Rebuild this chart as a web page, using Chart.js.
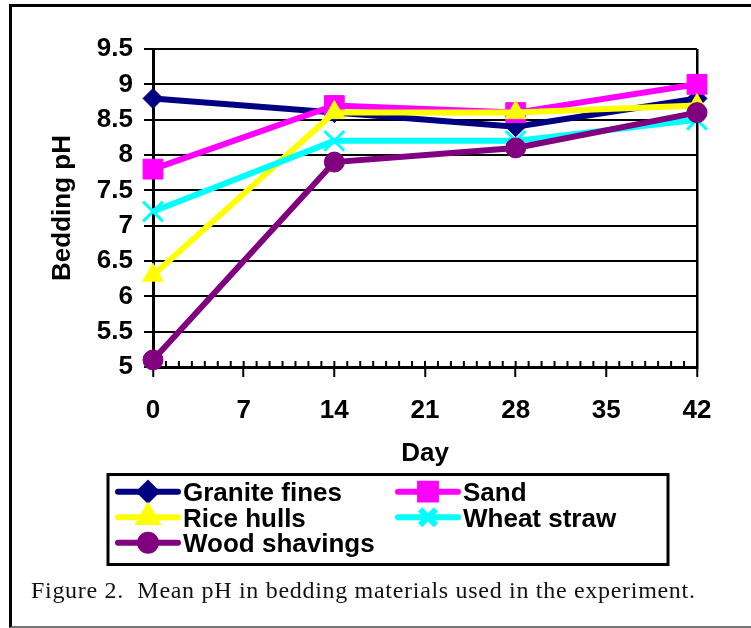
<!DOCTYPE html>
<html>
<head>
<meta charset="utf-8">
<script src="https://cdn.jsdelivr.net/npm/chart.js@4.4.0/dist/chart.umd.min.js"></script>
<style>
  html, body { margin: 0; padding: 0; background: #fff; }
  #wrap { position: relative; width: 751px; height: 628px; overflow: hidden; }
  #frame { position: absolute; left: 9px; top: 4px; width: 800px; height: 619px;
           border-left: 3px solid #000; border-top: 3px solid #000; border-bottom: 2px solid #777; }
  #caption { position: absolute; left: 31px; top: 578px; font: 24px "Liberation Serif", "Times New Roman", serif;
             letter-spacing: 0.7px; line-height: 1; white-space: pre; color: #111; }
  canvas { position: absolute; left: 0; top: 0; }
</style>
</head>
<body>
<div id="wrap">
  <div id="frame"></div>
  <canvas id="phChart" width="751" height="628"></canvas>
  <div id="caption">Figure 2.  Mean pH in bedding materials used in the experiment.</div>
</div>
<script>
// values
const days = [0, 14, 28, 42];
const graniteFines = [8.8, 8.6, 8.4, 8.8];
const sand = [7.8, 8.7, 8.6, 9.0];
const riceHulls = [6.3, 8.6, 8.6, 8.7];
const wheatStraw = [7.2, 8.2, 8.2, 8.5];
const woodShavings = [5.1, 7.9, 8.1, 8.6];
const seriesNames = ["Granite fines", "Sand", "Rice hulls", "Wheat straw", "Wood shavings"];
const xTicks = [0, 7, 14, 21, 28, 35, 42];
const yTicks = [5, 5.5, 6, 6.5, 7, 7.5, 8, 8.5, 9, 9.5];

const seriesValues = [graniteFines, sand, riceHulls, wheatStraw, woodShavings];
const colors = ["#000080", "#FF00FF", "#FFFF00", "#00FFFF", "#800080"];
const markers = ["rectRot", "rect", "triangle", "crossRot", "circle"];
const markerSize = [10, 14, 12, 14, 10];

const FONT = '"Liberation Sans", Arial, sans-serif';

// small day ticks sitting on top of the x axis
const minorTicks = {
  id: "minorTicks",
  beforeDatasetsDraw(chart) {
    const { ctx, chartArea, scales: { x } } = chart;
    ctx.save();
    ctx.strokeStyle = "#000";
    ctx.lineWidth = 2;
    for (let d = x.min; d <= x.max; d++) {
      const px = x.getPixelForValue(d);
      ctx.beginPath();
      ctx.moveTo(px, chartArea.bottom - 6);
      ctx.lineTo(px, chartArea.bottom);
      ctx.stroke();
    }
    ctx.restore();
  }
};

// boxed two-column legend like the excel one
const legendBox = {
  id: "legendBox",
  afterDraw(chart) {
    const ctx = chart.ctx;
    ctx.save();
    ctx.lineWidth = 3;
    ctx.strokeStyle = "#000";
    ctx.strokeRect(108, 474.5, 560, 90);
    chart.data.datasets.forEach((ds, i) => {
      const x0 = i % 2 === 0 ? 118 : 398;
      const base = 501 + Math.floor(i / 2) * 25.5;
      const yc = base - 9.3;
      ctx.strokeStyle = ds.borderColor;
      ctx.lineWidth = 6;
      ctx.lineCap = "round";
      ctx.beginPath();
      ctx.moveTo(x0, yc);
      ctx.lineTo(x0 + 60, yc);
      ctx.stroke();
      ctx.fillStyle = ds.pointBackgroundColor;
      ctx.strokeStyle = ds.pointBorderColor;
      ctx.lineCap = "butt";
      Chart.helpers.drawPoint(ctx, {
        pointStyle: ds.pointStyle, radius: ds.pointRadius * 0.8,
        rotation: 0, borderWidth: ds.pointBorderWidth
      }, x0 + 30, yc);
      ctx.fillStyle = "#000";
      ctx.font = "bold 26px " + FONT;
      ctx.textBaseline = "alphabetic";
      ctx.fillText(ds.label, x0 + 65, base);
    });
    ctx.restore();
  }
};

new Chart(document.getElementById("phChart"), {
  type: "line",
  data: {
    datasets: seriesValues.map((vals, i) => ({
      label: seriesNames[i],
      data: days.map((d, j) => ({ x: d, y: vals[j] })),
      borderColor: colors[i],
      backgroundColor: colors[i],
      borderWidth: 6,
      pointStyle: markers[i],
      pointRadius: markerSize[i],
      pointHoverRadius: markerSize[i],
      pointBackgroundColor: colors[i],
      pointBorderColor: colors[i],
      pointBorderWidth: markers[i] === "crossRot" ? 3 : 1,
      tension: 0,
      clip: false,
      order: seriesValues.length - 1 - i
    }))
  },
  options: {
    responsive: false,
    animation: false,
    events: [],
    layout: { padding: { left: 0, top: 49, right: 54, bottom: 159 } },
    plugins: { legend: { display: false }, tooltip: { enabled: false } },
    scales: {
      x: {
        type: "linear",
        min: 0,
        max: 42,
        afterBuildTicks: s => { s.ticks = xTicks.map(v => ({ value: v })); },
        afterFit: s => { s.height = 102; },
        border: { color: "#000", width: 3 },
        grid: {
          drawOnChartArea: true,
          color: c => (c.tick && c.tick.value === 42 ? "#000" : "rgba(0,0,0,0)"),
          lineWidth: 2.5,
          tickLength: 10,
          tickColor: "#000",
          tickWidth: 2
        },
        ticks: {
          color: "#000", padding: 18, callback: v => String(v),
          font: { family: FONT, size: 26, weight: "bold" }
        },
        title: {
          display: true, text: "Day", color: "#000",
          padding: { top: 0, bottom: 0 },
          font: { family: FONT, size: 26, weight: "bold" }
        }
      },
      y: {
        min: 5,
        max: 9.5,
        afterBuildTicks: s => { s.ticks = yTicks.map(v => ({ value: v })); },
        afterFit: s => { s.width = 153; },
        border: { color: "#000", width: 3 },
        grid: { color: "#000", lineWidth: 2, tickLength: 9, tickColor: "#000", tickWidth: 2 },
        ticks: {
          color: "#000", padding: 11, callback: v => String(v),
          font: { family: FONT, size: 26, weight: "bold" }
        },
        title: {
          display: true, text: "Bedding pH", color: "#000",
          padding: { top: 47, bottom: 0 },
          font: { family: FONT, size: 26, weight: "bold" }
        }
      }
    }
  },
  plugins: [minorTicks, legendBox]
});
</script>
</body>
</html>
